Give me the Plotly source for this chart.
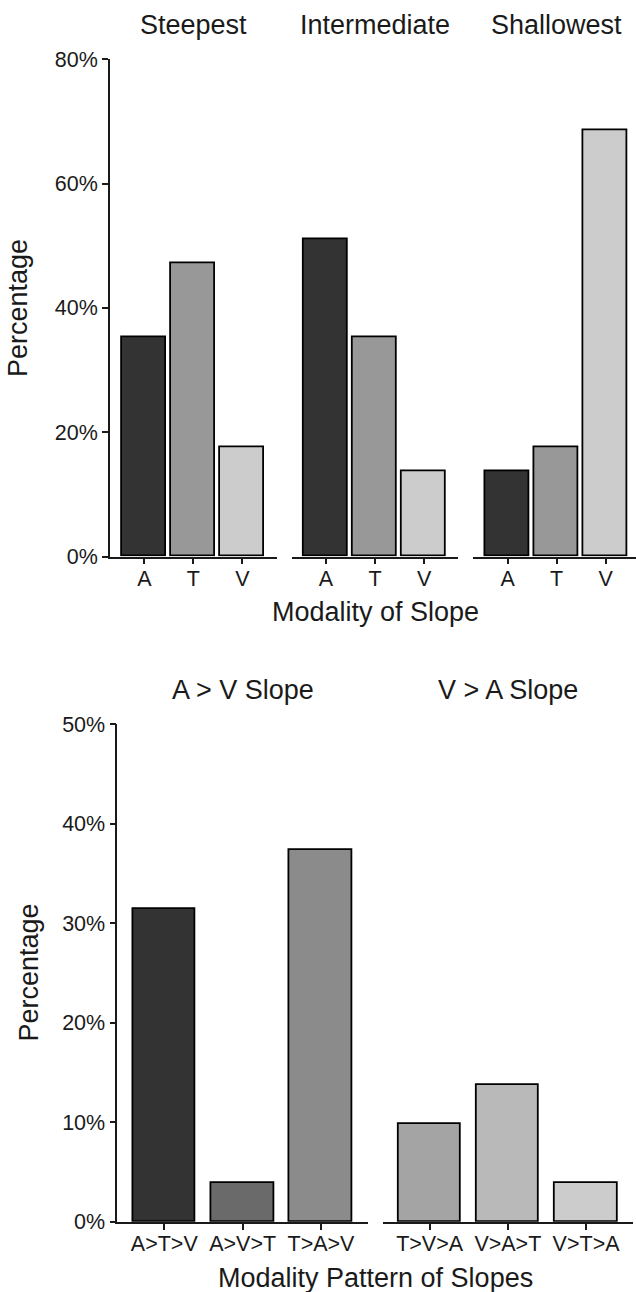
import plotly.graph_objects as go

# ---------------- data ----------------
modalities = ["A", "T", "V"]
slope_panels = ["Steepest", "Intermediate", "Shallowest"]
steepest = [35.3, 47.1, 17.6]
intermediate = [51.0, 35.3, 13.7]
shallowest = [13.7, 17.6, 68.6]
top_colors = ["#333333", "#989898", "#cccccc"]

pattern_groups = ["A > V Slope", "V > A Slope"]
av_patterns = ["A>T>V", "A>V>T", "T>A>V"]
av_values = [31.4, 3.9, 37.3]
va_patterns = ["T>V>A", "V>A>T", "V>T>A"]
va_values = [9.8, 13.7, 3.9]
av_colors = ["#333333", "#6a6a6a", "#8b8b8b"]
va_colors = ["#a4a4a4", "#b9b9b9", "#cccccc"]

top_ticks = [0, 20, 40, 60, 80]
top_tick_text = ["0%", "20%", "40%", "60%", "80%"]
bottom_ticks = [0, 10, 20, 30, 40, 50]
bottom_tick_text = ["0%", "10%", "20%", "30%", "40%", "50%"]

# ---------------- layout helpers ----------------
W, H = 636, 1292
FONT = "Liberation Sans, Arial, Helvetica, sans-serif"
TXT = "#1a1a1a"
LINE = "#1a1a1a"


def fx(px):
    return px / W


def fy(px):
    return 1 - px / H


fig = go.Figure()

top_data = [steepest, intermediate, shallowest]
for i, vals in enumerate(top_data):
    n = i + 1
    fig.add_trace(go.Bar(
        x=modalities, y=vals, width=0.9,
        marker=dict(color=top_colors, line=dict(color="black", width=1.8)),
        xaxis=f"x{n}" if n > 1 else "x", yaxis=f"y{n}" if n > 1 else "y",
        showlegend=False, hoverinfo="skip",
    ))

fig.add_trace(go.Bar(
    x=av_patterns, y=av_values, width=0.8,
    marker=dict(color=av_colors, line=dict(color="black", width=1.8)),
    xaxis="x4", yaxis="y4", showlegend=False, hoverinfo="skip",
))
fig.add_trace(go.Bar(
    x=va_patterns, y=va_values, width=0.8,
    marker=dict(color=va_colors, line=dict(color="black", width=1.8)),
    xaxis="x5", yaxis="y5", showlegend=False, hoverinfo="skip",
))

top_y = [fy(556.5), fy(59.3)]
bot_y = [fy(1221.7), fy(724.0)]
top_x = [[110, 276.7], [291.7, 458.4], [473.3, 636]]
unit_top = (276.7 - 110) / 3.4
top_ranges = [[-0.7, 2.7], [-0.7, 2.7], [-0.7, -0.7 + (636 - 473.3) / unit_top]]
bot_x = [[117.3, 368.0], [382.7, 633.0]]

xcommon = dict(
    type="category", showline=True, linecolor=LINE, linewidth=1.6,
    ticks="outside", ticklen=6, tickwidth=1.6, tickcolor=LINE,
    tickfont=dict(family=FONT, size=21.5, color=TXT),
    showgrid=False, zeroline=False, fixedrange=True, automargin=False,
    ticklabelstandoff=-4,
)
ycommon_show = dict(
    showline=True, linecolor=LINE, linewidth=1.6,
    ticks="outside", ticklen=6, tickwidth=1.6, tickcolor=LINE,
    tickfont=dict(family=FONT, size=21.5, color=TXT),
    showgrid=False, zeroline=False, automargin=False, tickmode="array",
)
yhidden = dict(showline=False, showticklabels=False, ticks="",
               showgrid=False, zeroline=False, automargin=False)

lay = {}
for i in range(3):
    n = i + 1
    xk = "xaxis" if n == 1 else f"xaxis{n}"
    yk = "yaxis" if n == 1 else f"yaxis{n}"
    ya = "y" if n == 1 else f"y{n}"
    xa = "x" if n == 1 else f"x{n}"
    lay[xk] = dict(xcommon, domain=[fx(top_x[i][0]), fx(top_x[i][1])],
                   range=top_ranges[i], anchor=ya)
    if n == 1:
        lay[yk] = dict(ycommon_show, domain=top_y, range=[0, 80],
                       tickvals=top_ticks, ticktext=top_tick_text, anchor=xa)
    else:
        lay[yk] = dict(yhidden, domain=top_y, range=[0, 80], anchor=xa)

lay["xaxis4"] = dict(xcommon, domain=[fx(bot_x[0][0]), fx(bot_x[0][1])],
                     range=[-0.6, 2.6], anchor="y4")
lay["yaxis4"] = dict(ycommon_show, domain=bot_y, range=[0, 50],
                     tickvals=bottom_ticks, ticktext=bottom_tick_text,
                     anchor="x4")
lay["xaxis5"] = dict(xcommon, domain=[fx(bot_x[1][0]), fx(bot_x[1][1])],
                     range=[-0.6, 2.6], anchor="y5")
lay["yaxis5"] = dict(yhidden, domain=bot_y, range=[0, 50], anchor="x5")

fig.update_layout(**lay)

annotations = []


def ann(text, x, y, size=27, angle=0):
    annotations.append(dict(
        text=text, x=fx(x), y=fy(y), xref="paper", yref="paper",
        xanchor="center", yanchor="middle", showarrow=False,
        textangle=angle, font=dict(family=FONT, size=size, color=TXT),
    ))


top_centers = [(a + b) / 2 for a, b in [[110, 276.7], [291.7, 458.4], [473.3, 640.0]]]
for name, cx in zip(slope_panels, top_centers):
    ann(name, cx, 25)
for name, (a, b) in zip(pattern_groups, bot_x):
    ann(name, (a + b) / 2, 690)
ann("Modality of Slope", 375, 612)
ann("Modality Pattern of Slopes", 375, 1278)
ann("Percentage", 18, 308, angle=-90)
ann("Percentage", 28.5, 973, angle=-90)

fig.update_layout(
    annotations=annotations,
    width=W, height=H,
    margin=dict(l=0, r=0, t=0, b=0, autoexpand=False),
    paper_bgcolor="white", plot_bgcolor="white",
    bargap=0, showlegend=False,
    font=dict(family=FONT, color=TXT),
)

fig.write_html("out.html")
